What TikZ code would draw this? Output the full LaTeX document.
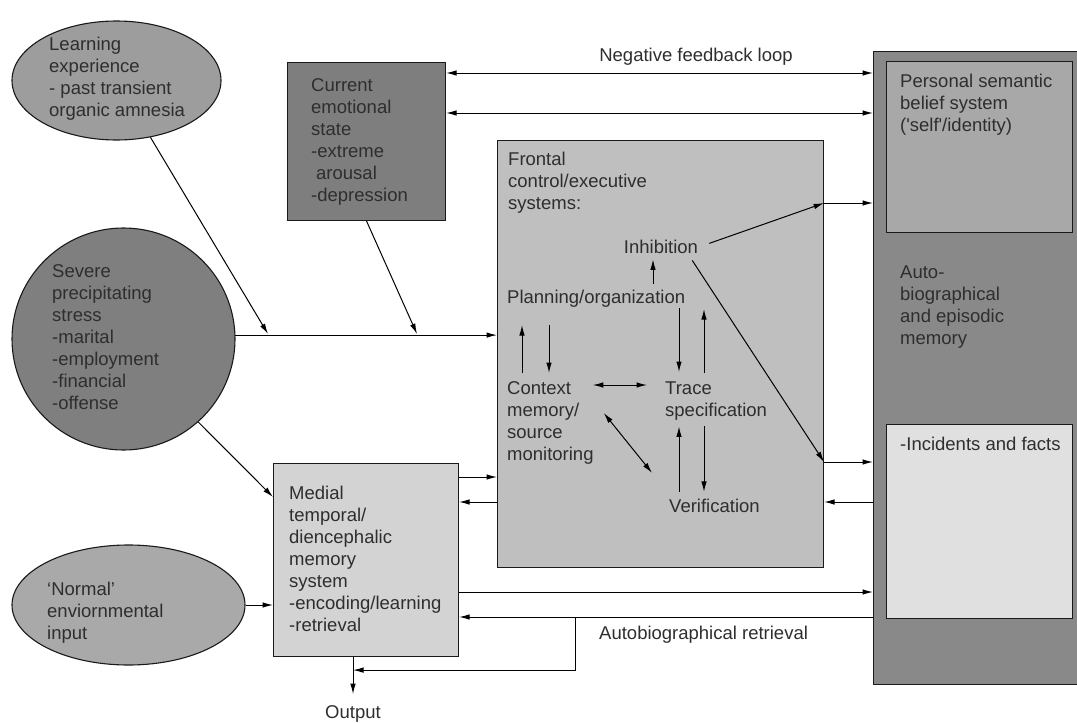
\documentclass[tikz,border=0pt]{standalone}
\usepackage{fontspec}
\setmainfont{Liberation Sans}
\usetikzlibrary{arrows.meta,shapes.geometric,calc}

\definecolor{learnfill}{HTML}{9D9D9D}
\definecolor{stressfill}{HTML}{7F7F7F}
\definecolor{normfill}{HTML}{A9A9A9}
\definecolor{emofill}{HTML}{7E7E7E}
\definecolor{frontfill}{HTML}{BFBFBF}
\definecolor{medfill}{HTML}{D3D3D3}
\definecolor{autofill}{HTML}{898989}
\definecolor{selffill}{HTML}{A8A8A8}
\definecolor{factfill}{HTML}{E0E0E0}
\definecolor{ink}{HTML}{2E2E2E}
\definecolor{edge}{HTML}{1A1A1A}

\begin{document}
\begin{tikzpicture}[x=1pt, y=-1pt,
    lbl/.style={font=\fontsize{18.5}{22}\selectfont, text=ink, align=left, inner sep=0pt},
    box/.style={draw=edge, line width=1.1pt, anchor=north west, inner sep=0pt},
    blob/.style={draw=edge, ellipse, line width=1.1pt, inner sep=0pt},
    arr/.style={-{Latex[length=10.5pt,width=5.5pt]}, line width=1pt},
    darr/.style={{Latex[length=10.5pt,width=5.5pt]}-{Latex[length=10.5pt,width=5.5pt]}, line width=1pt}]
\path[use as bounding box, clip] (0,0) rectangle (1077,723);

% inputs on the left
\node[blob, fill=learnfill, minimum width=209pt, minimum height=119pt] (Learn) at (116.5, 80.5) {};
\node[blob, fill=stressfill, minimum width=223pt, minimum height=222pt] (Stress) at (123.5, 339) {};
\node[blob, fill=normfill, minimum width=233pt, minimum height=120pt] (Norm) at (128.5, 605) {};

% boxes
\node[box, fill=emofill, minimum width=158pt, minimum height=158pt] (Emo) at (287, 62) {};
\node[box, fill=frontfill, minimum width=326pt, minimum height=427pt] (Front) at (497, 140) {};
\node[box, fill=medfill, minimum width=185pt, minimum height=193pt] (Med) at (273, 463) {};
\node[box, fill=autofill, minimum width=217pt, minimum height=633pt] (Auto) at (873, 51) {};
\node[box, fill=selffill, minimum width=186pt, minimum height=171pt] (Self) at (886, 61) {};
\node[box, fill=factfill, minimum width=186pt, minimum height=194pt] (Facts) at (886, 424) {};

% texts
\node[lbl, anchor=base] (tLoop) at (696, 61) {Negative feedback loop};
\node[lbl, anchor=north west] (tLearn) at (49, 36.5) {Learning\\experience\\- past transient\\organic amnesia};
\node[lbl, anchor=north west] (tEmo) at (311, 78.5) {Current\\emotional\\state\\-extreme\\\hspace{5pt}arousal\\-depression};
\node[lbl, anchor=north west] (tStress) at (52, 264.5) {Severe\\precipitating\\stress\\-marital\\-employment\\-financial\\-offense};
\node[lbl, anchor=north west] (tNorm) at (47, 581.5) {‘Normal’\\enviornmental\\input};
\node[lbl, anchor=north west] (tFront) at (508, 151.5) {Frontal\\control/executive\\systems:};
\node[lbl, anchor=base] (tInhib) at (661, 253) {Inhibition};
\node[lbl, anchor=base west] (tPlan) at (507, 303) {Planning/organization};
\node[lbl, anchor=north west] (tCtx) at (507, 381.5) {Context\\memory/\\source\\monitoring};
\node[lbl, anchor=north west] (tTrace) at (665, 381.5) {Trace\\specification};
\node[lbl, anchor=base west] (tVerif) at (669, 512) {Verification};
\node[lbl, anchor=north west] (tSelf) at (900, 73.5) {Personal semantic\\belief system\\(\textquotesingle self\textquotesingle/identity)};
\node[lbl, anchor=north west] (tAuto) at (900, 265.5) {Auto-\\biographical\\and episodic\\memory};
\node[lbl, anchor=base west] (tFacts) at (900, 450) {-Incidents and facts};
\node[lbl, anchor=north west] (tMed) at (289, 485.5) {Medial\\temporal/\\diencephalic\\memory\\system\\-encoding/learning\\-retrieval};
\node[lbl, anchor=base west] (tRetr) at (599, 639) {Autobiographical retrieval};
\node[lbl, anchor=base] (tOut) at (353, 718) {Output};

% stress line into the frontal system
\coordinate (j1) at (268, 334);
\coordinate (j2) at (417, 334);
\draw[arr] (Stress.2.6) -- (Stress.2.6 -| Front.west);
\draw[arr] (Learn) -- (j1);
\draw[arr] (Emo.south) -- (j2);
\draw[arr] (Stress.-48) -- ($(Med.north west)+(0,34)$);
\draw[arr] (Norm.east) -- (Norm.east -| Med.west);

% feedback to the self system
\draw[darr] (Emo.east |- 0,73) -- (Auto.west |- 0,73);
\draw[darr] (Emo.east |- 0,113) -- (Auto.west |- 0,113);

% inside the frontal box
\draw[arr] ($(tInhib.south |- tPlan.north)+(-8,-5.5)$) -- ($(tInhib.south)+(-8,6)$);
\draw[arr] ($(tCtx.north west)+(15,-8.5)$) -- ($(tCtx.north west |- tPlan.south)+(15,18)$);
\draw[arr] ($(tCtx.north west |- tPlan.south)+(42,18)$) -- ($(tCtx.north west)+(42,-8.5)$);
\draw[arr] ($(tTrace.north west |- tPlan.south)+(14,1)$) -- ($(tTrace.north west)+(14,-9.5)$);
\draw[arr] ($(tTrace.north west)+(39,-8.5)$) -- ($(tTrace.north west |- tPlan.south)+(39,2)$);
\draw[darr] ($(tCtx.north east)+(-1,3.5)$) -- ($(tTrace.north west)+(-18,3.5)$);
\draw[darr] ($(tCtx.north east)+(10,31.5)$) -- ($(tVerif.north west)+(-17,-25.5)$);
\draw[arr] ($(tTrace.south west)+(39,6)$) -- ($(tVerif.north west)+(35,-6.5)$);
\draw[arr] ($(tVerif.north west)+(10,-6.5)$) -- ($(tTrace.south west)+(14,6)$);

% frontal <-> memory stores
\coordinate (fo1) at (Front.east |- 0,203);
\coordinate (fo2) at (Front.east |- 0,462);
\draw[arr] ($(tInhib.east)+(11,-3)$) -- (fo1);
\draw[arr] ($(tInhib.south east)+(-6,7)$) -- (fo2);
\draw[arr] (fo1) -- (Auto.west |- fo1);
\draw[arr] (fo2) -- (Auto.west |- fo2);
\draw[arr] (Auto.west |- 0,502) -- (Front.east |- 0,502);

% medial temporal system
\draw[arr] (Med.east |- 0,477) -- (Front.west |- 0,477);
\draw[arr] (Front.west |- 0,502) -- (Med.east |- 0,502);
\draw[arr] (Med.east |- 0,592) -- (Auto.west |- 0,592);
\draw[arr] (Auto.west |- 0,617) -- (Med.east |- 0,617);
\coordinate (rb) at (575, 617);
\draw[arr] (rb) |- ($(Med.south -| tOut)+(0,13)$);
\draw[arr] (Med.south -| tOut) -- ++(0,37);
\end{tikzpicture}
\end{document}
